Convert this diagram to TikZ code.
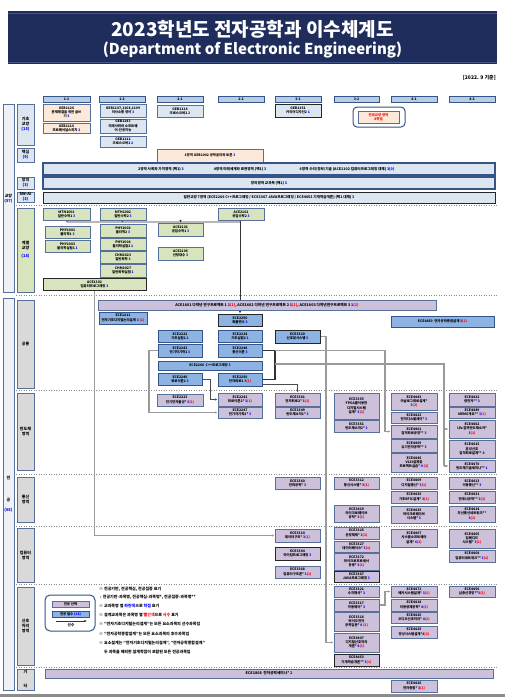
\documentclass[tikz,border=0pt]{standalone}
\usepackage{fontspec}
\setmainfont{Noto Sans CJK KR}
\usetikzlibrary{arrows.meta}
\pgfdeclarelayer{bg}
\pgfsetlayers{bg,main}
\definecolor{navy}{HTML}{1F2D5C}
\definecolor{navyl}{HTML}{41558A}
\definecolor{bdr}{HTML}{56709A}
\definecolor{bdr2}{HTML}{34548A}
\definecolor{semc}{HTML}{B8CCE4}
\definecolor{lblue}{HTML}{DCE6F1}
\definecolor{peach}{HTML}{FDE9D9}
\definecolor{lgreen}{HTML}{D7E4BD}
\definecolor{mblue}{HTML}{8DB3E2}
\definecolor{lavc}{HTML}{CCC0DA}
\definecolor{greyc}{HTML}{D9D9D9}
\definecolor{outerc}{HTML}{EEF1F6}
\definecolor{glinec}{HTML}{9A9A9A}
\definecolor{cblue}{HTML}{0000FF}
\definecolor{cred}{HTML}{FF0000}
\newcommand\xb[1]{\textcolor{cblue}{#1}}
\newcommand\xr[1]{\textcolor{cred}{#1}}
\newcommand\kbox[7]{\node[#6, minimum width={#4-#2}, minimum height={#5-#3}] (#1) at ({(#2+#4)/2},{(#3+#5)/2}) {#7};}
\begin{document}
\begin{tikzpicture}[x=1pt,y=-1pt,
  box/.style={draw=bdr, line width=0.9pt, inner sep=0pt, align=center, font=\fontsize{3.4}{4.2}\selectfont\bfseries},
  semh/.style={box, fill=semc, draw=bdr2, line width=0.7pt},
  lb/.style={box, fill=lblue},
  pch/.style={box, fill=peach},
  grn/.style={box, fill=lgreen},
  blu/.style={box, fill=mblue, draw=bdr2},
  lavbox/.style={box, fill=lavc},
  dk/.style={draw=black!85, line width=1pt},
  catb/.style={box, fill=lblue, font=\fontsize{4}{5}\selectfont\bfseries},
  catg/.style={box, fill=lgreen, font=\fontsize{4}{5}\selectfont\bfseries},
  catgr/.style={box, fill=greyc, font=\fontsize{4}{5}\selectfont\bfseries},
  outerbar/.style={box, fill=outerc, draw=bdr, line width=0.8pt},
  txt/.style={inner sep=0pt, font=\fontsize{3.6}{4.4}\selectfont\bfseries},
  note/.style={inner sep=0pt, anchor=west, font=\fontsize{4}{5}\selectfont\bfseries},
  gline/.style={draw=glinec, line width=1.3pt},
  bline/.style={draw=black!80, line width=0.8pt},
  arr/.style={-{Latex[length=2.6pt,width=2.3pt]}},
  sep/.style={draw=black!45, line width=0.5pt, dotted}
]
\useasboundingbox (0,0) rectangle (505,697);
\begin{pgfonlayer}{bg}
\fill[white] (0,0) rectangle (505,697);
\end{pgfonlayer}
\fill[black!45] (0,694) rectangle (505,697);

% title
\fill[navy] (8,11) rectangle (497,64);
\draw[navyl, line width=0.8pt] (8,13) -- (497,13) (8,62) -- (497,62);
\node[inner sep=0pt, text=white, font=\fontsize{19}{21}\selectfont\bfseries] (t1) at (252.5,29) {2023학년도 전자공학과 이수체계도};
\node[inner sep=0pt, text=white, font=\fontsize{15}{17}\selectfont\bfseries] (t2) at (252.5,50) {(Department of Electronic Engineering)};
\node[inner sep=0pt, anchor=east, font=\fontsize{5}{6}\selectfont\bfseries] (date) at (496,78) {[2022. 9 기준]};

% semesters
\kbox{s11}{43}{96}{90}{102}{semh}{1-1}
\kbox{s12}{99}{96}{145}{102}{semh}{1-2}
\kbox{s21}{157}{96}{203}{102}{semh}{2-1}
\kbox{s22}{218}{96}{264}{102}{semh}{2-2}
\kbox{s31}{275}{96}{321}{102}{semh}{3-1}
\kbox{s32}{334}{96}{379}{102}{semh}{3-2}
\kbox{s41}{391}{96}{437}{102}{semh}{4-1}
\kbox{s42}{449}{96}{495}{102}{semh}{4-2}

% outer bars
\kbox{og}{3}{104}{14}{292}{outerbar}{}
\node[txt, align=center, font=\fontsize{4}{5}\selectfont\bfseries] (ogt) at (8.5,199) {교양\\\xb{(57)}};
\kbox{oj}{3}{298}{14}{690}{outerbar}{}
\node[txt, font=\fontsize{4}{5}\selectfont\bfseries] (ojt1) at (8.5,478) {전};
\node[txt, font=\fontsize{4}{5}\selectfont\bfseries] (ojt2) at (8.5,500) {공};
\node[txt, font=\fontsize{4}{5}\selectfont\bfseries] (ojt3) at (8.5,510) {\xb{(65)}};

% categories
\kbox{c1}{17}{104}{34}{145}{catb}{기초\\교양\\\xb{(15)}}
\kbox{c2}{17}{148}{34}{162}{catb}{핵심\\\xb{(9)}}
\kbox{c3}{17}{177}{34}{189}{catb}{창의\\\xb{(3)}}
\kbox{c4}{17}{192}{34}{202}{catb}{SW-AI\\\xb{(3)}}
\kbox{c5}{17}{208}{34}{292}{catg}{계열\\교양\\[3pt]\xb{(18)}}
\kbox{c6}{17}{300}{34}{388}{catgr}{공통}
\kbox{c7}{17}{393}{34}{470}{catgr}{반도체\\영역}
\kbox{c8}{17}{477}{34}{522}{catgr}{통신\\영역}
\kbox{c9}{17}{528}{34}{582}{catgr}{컴퓨터\\영역}
\kbox{c10}{17}{587}{34}{665}{catgr}{신호\\처리\\영역}
\kbox{c11}{17}{669}{34}{690}{catgr}{}
\node[txt, font=\fontsize{4}{5}\selectfont\bfseries] (c11a) at (25.5,672) {기};
\node[txt, font=\fontsize{4}{5}\selectfont\bfseries] (c11b) at (25.5,686) {타};

% ---------- 교양 ----------
\kbox{g1126}{43}{104}{90}{121}{pch}{GEB1126\\문제해결을 위한 글쓰\\기 \xb{3}}
\kbox{g1116}{43}{123}{90}{133}{pch}{GEB1116\\프로페셔널스피치 \xb{2}}
\kbox{g1107}{100}{104}{146}{117}{lb}{GEB1107,1108,1109\\의사소통 영어 \xb{3}}
\kbox{g1143}{100}{119}{146}{133}{lb}{GEB1143\\미래사회와 소프트웨\\어-인공지능}
\kbox{g1112}{100}{136}{146}{147}{lb}{GEB1112\\크로스오버1 \xb{2}}
\kbox{g1114}{157}{105}{203}{117}{lb}{GEB1114\\크로스오버2 \xb{2}}
\kbox{g1151}{275}{104}{321}{117}{lb,dk}{GEB1151\\커리어디자인2 \xb{1}}
\draw[bdr2, line width=1pt, fill=white, rounded corners=4pt] (353,107) rectangle (405,127);
\kbox{gmaj}{358}{111}{399}{123}{pch, text=cred}{전공교양 영역\\8학점}

\kbox{h1}{157}{149}{263}{162}{pch}{1영역 GEB1002 공학윤리와 토론 \xb{3}}
\kbox{h2}{43}{163}{495}{175}{lb, draw=bdr2, line width=1.1pt}{}
\node[txt] (h2a) at (161,169) {2영역 사회와 가치영역 (택1) \xb{3}};
\node[txt] (h2b) at (240,169) {4영역 미래세계와 표현영역 (택1) \xb{3}};
\node[txt] (h2c) at (347,169) {6영역 수리/정보/기술 (ACE1102 컴퓨터프로그래밍 대체) \xb{3(0)}};
\kbox{cr}{43}{177}{495}{189}{lb, draw=bdr2, line width=1.1pt, font=\fontsize{3.6}{4.4}\selectfont\bfseries}{창의영역 교과목 (택1) \xb{3}}
\kbox{sw}{43}{192}{495}{203}{lb, dk, font=\fontsize{3.6}{4.4}\selectfont\bfseries}{일반교양 7영역 (ECE2266 C++프로그래밍 / ECE3367 JAVA프로그래밍 / ECE4453 기계학습개론) (택1 대체) \xb{3}}

% 계열교양
\kbox{m1}{43}{208}{90}{220}{grn}{MTH1001\\일반수학1 \xb{3}}
\kbox{m2}{100}{208}{146}{220}{grn}{MTH1002\\일반수학2 \xb{3}}
\kbox{a2102}{218}{208}{264}{220}{grn}{ACE2102\\공업수학2 \xb{3}}
\kbox{p1}{45}{226}{90}{238}{grn}{PHY1001\\물리학1 \xb{3}}
\kbox{p3}{45}{240}{90}{252}{grn}{PHY1003\\물리학실험1 \xb{1}}
\kbox{p2}{100}{224}{146}{237}{grn}{PHY1002\\물리학2 \xb{3}}
\kbox{p4}{100}{238}{146}{250}{grn}{PHY1004\\물리학실험2 \xb{1}}
\kbox{ch1}{100}{251}{146}{263}{grn}{CHM1023\\일반화학 \xb{3}}
\kbox{ch2}{100}{264}{146}{277}{grn}{CHM1027\\일반화학실험 \xb{1}}
\kbox{a2101}{158}{223}{203}{236}{grn}{ACE2101\\공업수학1 \xb{3}}
\kbox{a2105}{158}{247}{203}{260}{grn}{ACE2105\\선형대수 \xb{3}}
\kbox{a1302}{43}{278}{146}{290}{grn,dk}{ACE1302\\컴퓨터프로그래밍 \xb{3}}

% ---------- 공통 ----------
\kbox{a1601}{98}{300}{436}{310}{lavbox, font=\fontsize{3.7}{4.4}\selectfont\bfseries}{ACE1601 다학년 연구프로젝트 1 \xb{1}\xr{(1)}, ACE1602 다학년 연구프로젝트 2 \xb{1}\xr{(1)}, ACE1603 다학년연구프로젝트 3 \xb{1}\xr{(1)}}
\kbox{e1211}{99}{312}{147}{324}{blu}{ECE1211\\전자기초디지털논리설계 \xb{3} \xr{(1)}}
\kbox{e2290}{218}{314}{262}{326}{blu,dk}{ECE2290\\확률변수 \xb{3}}
\kbox{e4450}{391}{316}{494}{327}{blu}{ECE4450 \ 전자공학종합설계 \xb{3}\xr{(2)}}
\kbox{e2222}{158}{330}{202}{342}{blu}{ECE2222\\기초실험1 \xb{1}}
\kbox{e2224}{218}{330}{262}{342}{blu}{ECE2224\\기초실험2 \xb{1}}
\kbox{e3320}{275}{330}{320}{343}{blu,dk}{ECE3320\\신호및시스템 \xb{3}}
\kbox{e2243}{158}{344}{202}{357}{blu}{ECE2243\\전기자기학1 \xb{3}}
\kbox{e2248}{218}{344}{262}{357}{blu}{ECE2248\\통신이론 \xb{3}}
\kbox{e2266}{158}{361}{262}{370}{blu}{ECE2266 \ C++프로그래밍 \xb{3}}
\kbox{e2240}{158}{373}{202}{385}{blu}{ECE2240\\회로이론1 \xb{3}}
\kbox{e2250}{218}{373}{262}{386}{blu}{ECE2250\\전자회로1 \xb{3}\xr{(1)}}

% ---------- 반도체 ----------
\kbox{e2223}{157}{394}{203}{406}{lavbox}{ECE2223\\전기전자물성* \xb{3}\xr{(1)}}
\kbox{e2241}{218}{393}{262}{406}{lavbox}{ECE2241\\회로이론2* \xb{3}\xr{(1)}}
\kbox{e2247}{218}{407}{262}{418}{lavbox}{ECE2247\\전기자기학2* \xb{3}}
\kbox{e3361}{275}{393}{320}{406}{lavbox}{ECE3361\\전자회로2* \xb{3}\xr{(1)}}
\kbox{e3349}{275}{407}{320}{418}{lavbox}{ECE3349\\반도체소자1* \xb{3}}
\kbox{e3355}{334}{393}{379}{419}{lavbox}{ECE3355\\FPGA를이용한\\디지털시스템\\설계* \xb{3}\xr{(2)}}
\kbox{e3351}{334}{420}{379}{432}{lavbox}{ECE3351\\반도체소자2* \xb{3}}
\kbox{e4443}{391}{393}{437}{410}{lavbox}{ECE4443\\아날로그회로설계*\\\xb{3}\xr{(2)}}
\kbox{e4423}{391}{412}{437}{423}{lavbox}{ECE4423\\전자디스플레이* \xb{3}}
\kbox{e4461}{391}{425}{437}{438}{lavbox}{ECE4461\\집적회로공정** \xb{3}}
\kbox{e4469}{391}{439}{437}{452}{lavbox}{ECE4469\\유기전자공학** \xb{3}}
\kbox{e4446}{391}{453}{437}{472}{lavbox}{ECE4446\\VLSI설계및\\프로젝트실습* \xb{4} \xr{(2)}}
\kbox{e4422}{449}{393}{495}{406}{lavbox}{ECE4422\\광전자** \xb{3}}
\kbox{e4449}{449}{407}{495}{418}{lavbox}{ECE4449\\MEMS개요** \xb{3}\xr{(1)}}
\kbox{e4462}{449}{420}{495}{438}{lavbox}{ECE4462\\나노집적반도체소자*\\\xb{3}\xr{(1)}}
\kbox{e4415}{449}{440}{495}{458}{lavbox}{ECE4415\\혼성신호\\집적회로설계** \xb{4}}
\kbox{e4470}{449}{460}{495}{472}{lavbox}{ECE4470\\반도체기술세미나** \xb{1}}

% ---------- 통신 ----------
\kbox{e3360}{275}{477}{320}{489}{lavbox}{ECE3360\\전파공학* \xb{3}}
\kbox{e3312}{334}{477}{379}{489}{lavbox}{ECE3312\\통신시스템* \xb{3}\xr{(1)}}
\kbox{e4409}{391}{477}{437}{489}{lavbox}{ECE4409\\디지털통신* \xb{3}\xr{(1)}}
\kbox{e4413}{449}{477}{495}{489}{lavbox}{ECE4413\\이동통신** \xb{3}}
\kbox{e4430}{391}{491}{437}{503}{lavbox}{ECE4430\\기초RFIC설계* \xb{3}\xr{(1)}}
\kbox{e4431}{449}{491}{495}{503}{lavbox}{ECE4431\\안테나공학** \xb{3}\xr{(1)}}
\kbox{e3419}{334}{505}{379}{522}{lavbox}{ECE3419\\마이크로웨이브\\공학* \xb{3}\xr{(1)}}
\kbox{e4435}{391}{506}{437}{523}{lavbox}{ECE4435\\마이크로웨이브\\시스템* \xb{3}}
\kbox{e4414}{449}{506}{495}{522}{lavbox}{ECE4414\\무선통신네트워크**\\\xb{3}\xr{(1)}}

% ---------- 컴퓨터 ----------
\kbox{e3314}{275}{529}{320}{542}{lavbox}{ECE3314\\데이터구조* \xb{3}\xr{(1)}}
\kbox{e3364}{275}{547}{320}{560}{lavbox,dk}{ECE3364\\마이컴프로그래밍 \xb{3}}
\kbox{e3368}{275}{566}{320}{578}{lavbox}{ECE3368\\컴퓨터구조론* \xb{3}\xr{(1)}}
\kbox{e3325}{334}{527}{379}{539}{lavbox}{ECE3325\\운영체제* \xb{3}\xr{(1)}}
\kbox{e3327}{334}{541}{379}{552}{lavbox}{ECE3327\\데이터베이스* \xb{3}\xr{(1)}}
\kbox{e3372}{334}{553}{379}{570}{lavbox}{ECE3372\\마이크로프로세서\\응용* \xb{3}\xr{(1)}}
\kbox{e3367}{334}{571}{379}{582}{lavbox,dk}{ECE3367\\JAVA프로그래밍 \xb{3}}
\kbox{e4467}{391}{529}{437}{547}{lavbox}{ECE4467\\시스템소프트웨어\\설계* \xb{4}\xr{(2)}}
\kbox{e4465}{449}{529}{495}{548}{lavbox}{ECE4465\\임베디드\\시스템* \xb{3}\xr{(1)}}
\kbox{e4408}{449}{550}{495}{562}{lavbox}{ECE4408\\컴퓨터네트워크** \xb{3}\xr{(1)}}

% ---------- 신호처리 ----------
\kbox{e3321}{334}{586}{379}{597}{lavbox}{ECE3321\\수치해석* \xb{3}}
\kbox{e3317}{334}{599}{379}{611}{lavbox}{ECE3317\\자동제어* \xb{3}}
\kbox{e3316}{334}{612}{379}{631}{lavbox}{ECE3316\\바이오전자\\공학입문* \xb{4} \xr{(2)}}
\kbox{e4407}{334}{633}{379}{652}{lavbox}{ECE4407\\디지털신호처리\\개론* \xb{4}\xr{(1)}}
\kbox{e4453}{334}{654}{379}{666}{lavbox,dk}{ECE4453\\기계학습개론** \xb{3}\xr{(1)}}
\kbox{e4471}{391}{586}{437}{597}{lavbox}{ECE4471\\메카시스템설계* \xb{3}\xr{(1)}}
\kbox{e4418}{391}{599}{437}{611}{lavbox}{ECE4418\\의용생체공학* \xb{4}\xr{(2)}}
\kbox{e4420}{391}{612}{437}{623}{lavbox}{ECE4420\\오디오신호처리* \xb{4}\xr{(2)}}
\kbox{e4425}{391}{626}{437}{638}{lavbox}{ECE4425\\영상시스템설계*\xb{4}\xr{(2)}}
\kbox{e4456}{449}{586}{495}{597}{lavbox}{ECE4456\\심층신경망**\xb{3}\xr{(1)}}

% ---------- 기타 ----------
\kbox{e1808}{45}{669}{493}{678}{lavbox, font=\fontsize{3.7}{4.4}\selectfont\bfseries}{ECE1808 \ 전자공학세미나* \xb{2}}
\kbox{e4426}{391}{680}{437}{692}{lavbox}{ECE4426\\전자종합* \xb{3}\xr{(1)}}

% legend
\draw[bdr2, line width=1pt, rounded corners=5pt] (45,595) rectangle (95,631);
\kbox{lg1}{52}{601}{89}{607}{lavbox, font=\fontsize{3.4}{4}\selectfont\bfseries}{전공 선택}
\kbox{lg2}{52}{611}{89}{617}{blu, font=\fontsize{3.4}{4}\selectfont\bfseries}{전공 필수 \xb{(18)}}
\coordinate (lgA) at (56,621);
\coordinate (lgB) at (87,621);
\draw[bline, arr, line width=0.6pt] (lgA) -- (lgB);
\node[txt] (lgt) at (71,625.5) {선수};

% notes
\node[note] (n1) at (99,589) {※ 전공기반, 전공핵심, 전공집중 표기};
\node[note] (n2) at (100,597) {: 전공기반-과목명, 전공핵심-과목명*, 전공집중-과목명**};
\node[note] (n3) at (99,606) {※ 교과목명 옆 \xb{파란색}으로 \xb{학점} 표기};
\node[note] (n4) at (99,615) {※ 설계교과목은 과목명 옆 \xr{빨간색}으로 \xr{시수} 표기};
\node[note] (n5) at (99,624) {※ "전자기초디지털논리설계"는 모든 요소과목의 선수과목임};
\node[note] (n6) at (99,634) {※ "전자공학종합설계"는 모든 요소과목의 후수과목임};
\node[note] (n7) at (99,643) {※ 요소설계는 "전자기초디지털논리설계", "전자공학종합설계"};
\node[note] (n8) at (104,652) {두 과목을 제외한 설계학점이 포함된 모든 전공과목임};

% ---------- background: separators & connectors ----------
\begin{pgfonlayer}{bg}
\foreach \yy in {205,295,390,474,526,584,667} \draw[sep] (16,\yy) -- (497,\yy);
% math chain
\coordinate (k1) at (67,222);
\coordinate (k2) at (240,222);
\coordinate (k3) at (180.5,222);
\draw[bline] (m1.south) -- (k1) -- (k2);
\draw[bline] (m2.south) -- (122,222);
\draw[bline] (a2102.south) -- (k2);
\draw[bline, arr] (k2) -- (e2290.north);
\draw[bline, arr] (k3) -- (a2101.north);
% programming -> data structure
\draw[gline, arr] (a1302.south) |- (e3314.west);
% EM1 -> EM2
\draw[gline, arr] (e2243.west) -- (149,350.5) |- (e2247.west);
% circuit 1 -> circuit 2
\draw[bline, draw=black!70, arr] (e2240.east) -- (210,379) |- (e2241.west);
% bracket
\coordinate (br1) at (275,350.5);
\coordinate (br2) at (275,364);
\draw[bline, line width=1.1pt] (e2248.east) -- (br1) -- (275,379.5) -- (e2250.east);
\draw[bline, draw=black!70, arr] (262,384) -| (e3361.north);
\draw[gline, arr] (br1) -| (385,431.5) -- (e4461.west);
\draw[gline] (br2) -| (444,466);
\draw[gline, arr] (444,429) -- (e4462.west);
\draw[gline, arr] (444,466) -- (e4470.west);
% signals -> DSP
\draw[gline, arr] (e3320.east) -- (326,336.5) |- (e4407.west);
% control -> mecha
\draw[gline, arr] (e3317.east) -- (385,605) |- (e4471.west);
\end{pgfonlayer}
\end{tikzpicture}
\end{document}
